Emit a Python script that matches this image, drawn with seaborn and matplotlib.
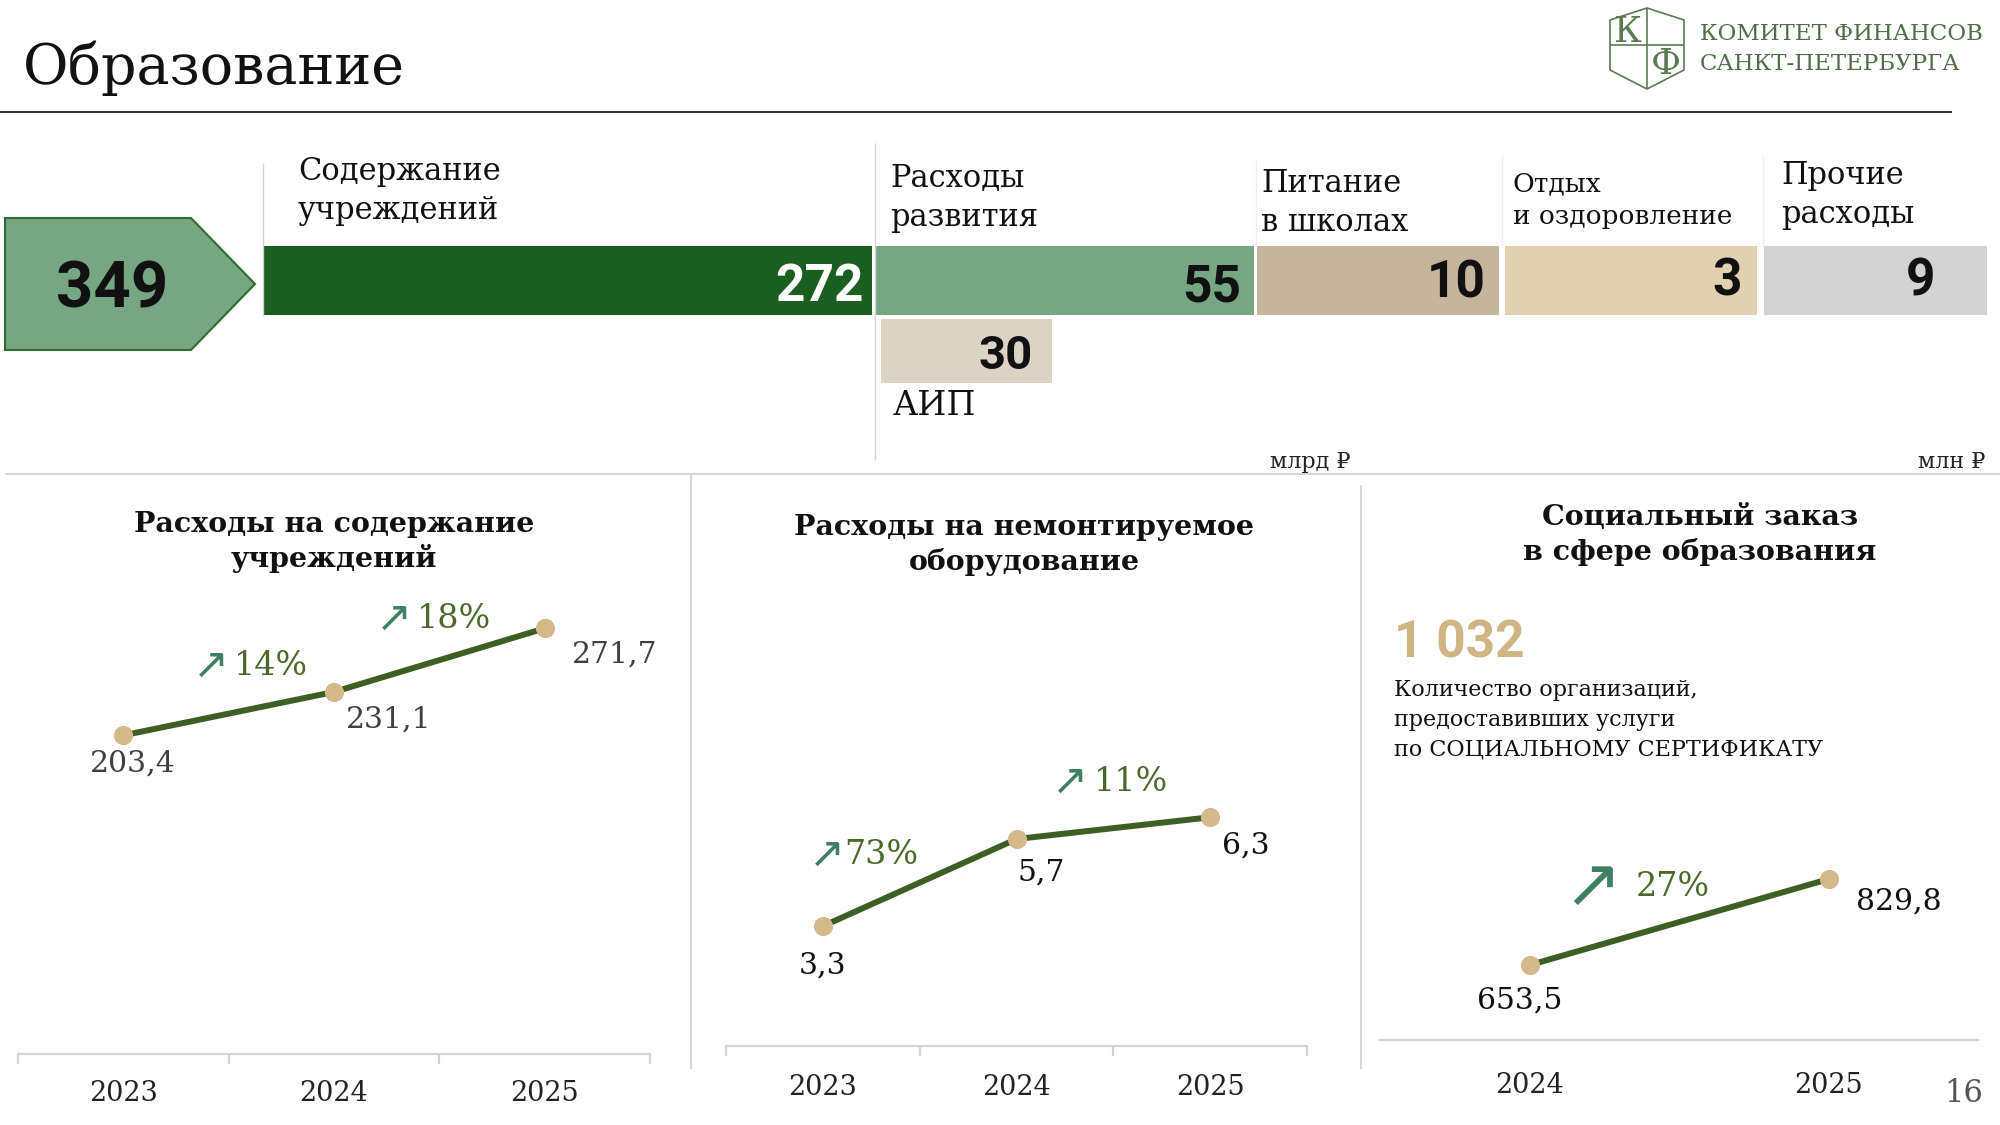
import numpy as np
import pandas as pd
import matplotlib
matplotlib.use("Agg")
import matplotlib.pyplot as plt
from matplotlib.patches import Polygon
import seaborn as sns

# ---------------- data ----------------
page_title = "Образование"
total_value = 349
segment_names = ["Содержание\nучреждений", "Расходы\nразвития", "Питание\nв школах",
                 "Отдых\nи оздоровление", "Прочие\nрасходы"]
segment_values = [272, 55, 10, 3, 9]
aip_name = "АИП"
aip_value = 30
unit_bn = "млрд ₽"
unit_mn = "млн ₽"

years_a = ["2023", "2024", "2025"]
upkeep_values = [203.4, 231.1, 271.7]
upkeep_growth = ["14%", "18%"]
equip_values = [3.3, 5.7, 6.3]
equip_growth = ["73%", "11%"]
years_b = ["2024", "2025"]
social_values = [653.5, 829.8]
social_growth = ["27%"]
org_count = "1 032"
org_text = "Количество организаций,\nпредоставивших услуги\nпо СОЦИАЛЬНОМУ СЕРТИФИКАТУ"
panel_titles = ["Расходы на содержание\nучреждений",
                "Расходы на немонтируемое\nоборудование",
                "Социальный заказ\nв сфере образования"]
logo_lines = ["КОМИТЕТ ФИНАНСОВ", "САНКТ-ПЕТЕРБУРГА"]
page_number = "16"

# ---------------- style / layout ----------------
W, H = 2000, 1125
sns.set_theme(style="white")
plt.rcParams["font.family"] = ["DejaVu Serif", "DejaVu Sans"]

seg_colors = ["#1a5e20", "#76a682", "#c4b59c", "#e2d1b0", "#d3d3d3"]
seg_label_colors = ["white", "#111111", "#111111", "#111111", "#111111"]
seg_lefts = [263, 876, 1257, 1505, 1764]
seg_widths = [609, 378, 242, 252, 223]
seg_label_pad = [8, 13, 13, 15, 52]
seg_label_y = [287, 287, 284, 282, 281]
seg_name_xy = [(298, 191), (890, 198), (1261, 203), (1513, 200), (1781, 195)]
seg_name_size = [22, 22, 22, 19, 22]
seg_name_spacing = [1.3, 1.3, 1.3, 1.38, 1.3]
bar_top, bar_bottom = 246, 315

LINE_C = "#3d5f24"
MARK_C = "#d4b98a"
PCT_C = "#4b6a2a"
ARROW_C = "#3e8061"
GRID_C = "#d3d3d3"


def box(l, t, r, b):
    return [l / W, 1 - b / H, (r - l) / W, (b - t) / H]


fig = plt.figure(figsize=(W / 100, H / 100), dpi=100)
fig.patch.set_facecolor("white")

canvas = fig.add_axes([0, 0, 1, 1], zorder=0)
canvas.set_xlim(0, W)
canvas.set_ylim(H, 0)
canvas.axis("off")

# title and rule
canvas.text(23, 68, page_title, fontsize=40, color="#111111", ha="left", va="center")
canvas.hlines(112, 0, 1952, color="#222222", lw=1.3)

# logo
LOGO_C = "#5a7a52"
shield = Polygon([(1610, 20), (1647, 8), (1684, 20), (1684, 70), (1647, 89), (1610, 70)],
                 closed=True, fill=False, edgecolor=LOGO_C, lw=1.2)
canvas.add_patch(shield)
canvas.vlines(1647, 8, 89, color=LOGO_C, lw=1.2)
canvas.hlines(45, 1610, 1684, color=LOGO_C, lw=1.2)
canvas.text(1628, 32, "К", fontsize=26, color=LOGO_C, ha="center", va="center")
canvas.text(1666, 64, "Ф", fontsize=26, color=LOGO_C, ha="center", va="center")
canvas.text(1700, 34, logo_lines[0], fontsize=16.5, color="#4d6e47", ha="left", va="center")
canvas.text(1700, 64, logo_lines[1], fontsize=16.5, color="#4d6e47", ha="left", va="center")

# total arrow
arrow_l, arrow_body, arrow_tip, arrow_t, arrow_b = 5, 191, 255, 218, 350
arrow_mid = (arrow_t + arrow_b) / 2
canvas.add_patch(Polygon([(arrow_l, arrow_t), (arrow_body, arrow_t), (arrow_tip, arrow_mid),
                          (arrow_body, arrow_b), (arrow_l, arrow_b)], closed=True,
                         facecolor="#76a682", edgecolor="#2e6b2e", lw=1.5))
canvas.text((arrow_l + arrow_body) / 2 + 14, arrow_mid + 6, str(total_value), family="Roboto",
            fontweight="bold", fontsize=47, color="#111111", ha="center", va="center")

# segment bars
bar_h = bar_bottom - bar_top
canvas.barh([(bar_top + bar_bottom) / 2] * len(segment_values), seg_widths, left=seg_lefts,
            height=bar_h, color=seg_colors, edgecolor="none")
for i, v in enumerate(segment_values):
    canvas.text(seg_lefts[i] + seg_widths[i] - seg_label_pad[i], seg_label_y[i], str(v),
                family="Roboto", fontweight="bold", fontsize=37, color=seg_label_colors[i],
                ha="right", va="center")
    canvas.text(seg_name_xy[i][0], seg_name_xy[i][1], segment_names[i], fontsize=seg_name_size[i],
                color="#111111", ha="left", va="center", linespacing=seg_name_spacing[i])

# AIP bar
aip_left, aip_w, aip_t, aip_b = 881, 171, 319, 383
canvas.barh([(aip_t + aip_b) / 2], [aip_w], left=[aip_left], height=aip_b - aip_t,
            color="#dcd3c5", edgecolor="none")
canvas.text(aip_left + aip_w - 19, (aip_t + aip_b) / 2 + 5, str(aip_value), family="Roboto",
            fontweight="bold", fontsize=34, color="#111111", ha="right", va="center")
canvas.text(893, 406, aip_name, fontsize=24, color="#111111", ha="left", va="center")

# separators in the strip
canvas.vlines(263, 163, 316, color=GRID_C, lw=1)
canvas.vlines(875, 143, 460, color=GRID_C, lw=1)
canvas.vlines(1256, 160, 246, color="#eeeeee", lw=1)
canvas.vlines(1502, 155, 246, color="#eeeeee", lw=1)
canvas.vlines(1763, 155, 246, color="#eeeeee", lw=1)

canvas.text(1350, 462, unit_bn, fontsize=16, color="#222222", ha="right", va="center")
canvas.text(1985, 462, unit_mn, fontsize=16, color="#222222", ha="right", va="center")

# panel separators
canvas.hlines(474, 5, 2000, color=GRID_C, lw=1.3)
canvas.vlines(691, 474, 1069, color=GRID_C, lw=1.3)
canvas.vlines(1361, 485, 1069, color=GRID_C, lw=1.3)

# panel titles
for (x, y), t in zip([(334, 542), (1024, 545), (1700, 535)], panel_titles):
    canvas.text(x, y, t, fontsize=20.5, fontweight="bold", color="#111111",
                ha="center", va="center", linespacing=1.3)

# social text
canvas.text(1394, 644, org_count, family="Roboto", fontweight="bold", fontsize=37,
            color="#cfb584", ha="left", va="center")
canvas.text(1394, 720, org_text, fontsize=16, color="#111111", ha="left", va="center",
            linespacing=1.45)

canvas.text(1964, 1093, page_number, fontsize=22, color="#555555", ha="center", va="center")


# ---------------- line panels ----------------
def fmt(v):
    return f"{v:.1f}".replace(".", ",")


def px2pt(dx, dy):
    return (dx * 0.72, -dy * 0.72)


def line_panel(rect, years, values, ylim, growth, label_off, growth_off, label_color,
               boundary_ticks, pad, big_arrow=False):
    ax = fig.add_axes(rect, zorder=2)
    ax.set_facecolor("none")
    df = pd.DataFrame({"year": years, "value": values})
    sns.lineplot(data=df, x="year", y="value", ax=ax, color=LINE_C, lw=4.3, marker="o",
                 markersize=13, markerfacecolor=MARK_C, markeredgecolor=MARK_C, zorder=3)
    n = len(years)
    ax.set_xlim(-0.5, n - 0.5)
    ax.set_ylim(*ylim)
    sns.despine(ax=ax, left=True, top=True, right=True)
    ax.spines["bottom"].set_color(GRID_C)
    ax.spines["bottom"].set_linewidth(1.6)
    ax.set_yticks([])
    ax.set_xlabel("")
    ax.set_ylabel("")
    ax.grid(False)
    ax.tick_params(axis="x", which="major", length=0, pad=pad, labelsize=19.5,
                   labelcolor="#222222")
    if boundary_ticks:
        ax.set_xticks(np.arange(-0.5, n), minor=True)
        ax.tick_params(axis="x", which="minor", bottom=True, direction="out", length=7,
                       width=1.6, color=GRID_C)
    for i, v in enumerate(values):
        ax.annotate(fmt(v), xy=(i, v), xytext=px2pt(*label_off[i]), textcoords="offset points",
                    ha="center", va="center", fontsize=21.5, color=label_color)
    for i, g in enumerate(growth):
        mid = (i + 0.5, (values[i] + values[i + 1]) / 2)
        (ax_dx, ax_dy), (tx_dx, tx_dy) = growth_off[i]
        if big_arrow:
            ax.annotate("↗", xy=mid, xytext=px2pt(ax_dx, ax_dy), textcoords="offset points",
                        ha="center", va="center", fontsize=50, color=ARROW_C,
                        family="DejaVu Sans")
        else:
            ax.annotate("↗", xy=mid, xytext=px2pt(ax_dx, ax_dy), textcoords="offset points",
                        ha="center", va="center", fontsize=31, color=ARROW_C,
                        family="DejaVu Sans")
        ax.annotate(g, xy=mid, xytext=px2pt(tx_dx, tx_dy), textcoords="offset points",
                    ha="left", va="center", fontsize=24, color=PCT_C)
    return ax


line_panel(box(18, 584, 650, 1054), years_a, upkeep_values, (0, 300), upkeep_growth,
           [(9, 28), (55, 28), (70, 26)],
           [((-18, -48), (5, -48)), ((-45, -41), (-22, -41))],
           "#404040", True, 19)

line_panel(box(726, 574, 1307, 1046), years_a, equip_values, (0, 13), equip_growth,
           [(0, 39), (25, 34), (36, 28)],
           [((-93, -28), (-75, -28)), ((-43, -46), (-19, -46))],
           "#111111", True, 20)

line_panel(box(1380, 562, 1978, 1040), years_b, social_values, (500, 1480), social_growth,
           [(-10, 35), (70, 22)],
           [((-87, -35), (-43, -35))],
           "#111111", False, 23, big_arrow=True)

fig.savefig("out.png", dpi=100, facecolor="white")
